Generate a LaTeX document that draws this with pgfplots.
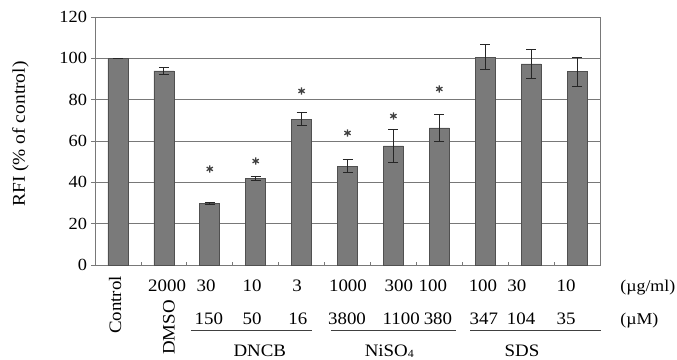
\documentclass[border=0pt]{standalone}
\usepackage{fontspec}
\setmainfont{Liberation Serif}[FakeStretch=1.08]
\usepackage{pgfplots}
\pgfplotsset{compat=1.18}
\usepackage{pgfplotstable}
\definecolor{barfill}{RGB}{122,122,122}
\definecolor{barline}{RGB}{80,80,80}
\definecolor{gridc}{RGB}{120,120,120}
\tikzset{lbl/.style={font=\fontsize{17.5}{19}\selectfont, inner sep=0pt, anchor=base}}
\pgfplotstableread{
x y err
0 100 0
1 93.9 1.8
2 29.8 0.6
3 41.8 1.0
4 70.6 3.0
5 47.9 3.0
6 57.6 8.0
7 66.3 6.4
8 100.6 6.2
9 97.3 7.0
10 93.5 7.0
}\datatab
\pgfplotstableread{
x y
2 46.5
3 50.3
4 84.2
5 63.9
6 72.1
7 85.2
}\startab
\begin{document}
\begin{tikzpicture}
\useasboundingbox (-95pt,-94pt) rectangle (582pt,265pt);
\begin{axis}[
  at={(0,0)}, anchor=south west,
  scale only axis, width=505pt, height=248pt,
  xmin=-0.5, xmax=10.5, ymin=0, ymax=120,
  ytick={0,20,...,120},
  xtick={0.5,1.5,...,9.5}, xticklabels={},
  xtick pos=bottom, ytick pos=left,
  xtick align=inside, ytick align=outside,
  major tick length=3.5pt,
  tick style={gridc, line width=0.8pt},
  ymajorgrids, grid style={gridc, line width=0.8pt},
  axis line style={gridc, line width=0.8pt},
  /pgf/number format/assume math mode=true,
  yticklabel style={font=\fontsize{17}{19}\selectfont, xshift=-1pt},
  ylabel={RFI (\% of control)},
  ylabel style={font=\fontsize{18}{20}\selectfont, at={(axis description cs:-0.1475,0.528)}, anchor=center},
  clip=false,
]
\addplot[ybar, bar width=20pt, fill=barfill, draw=barline, line width=0.6pt,
  error bars/.cd, y dir=both, y explicit,
  error mark options={rotate=90, mark size=5pt, line width=0.9pt, black!85},
  error bar style={line width=0.9pt, black!85}]
  table[x=x, y=y, y error=err]{\datatab};
\addplot[only marks, mark=asterisk, mark size=3.6pt, line width=1.3pt, black!75] table[x=x,y=y]{\startab};
% labels below
\node[lbl, rotate=90, anchor=east] at (axis cs:-0.06,-5.3) {Control};
\node[lbl, rotate=90, anchor=east] at (axis cs:1.11,-16.9) {DMSO};
\node[lbl] at (axis cs:1.07,-12.6) {2000};
\node[lbl] at (axis cs:1.92,-12.6) {30};
\node[lbl] at (axis cs:2.92,-12.6) {10};
\node[lbl] at (axis cs:3.90,-12.6) {3};
\node[lbl] at (axis cs:5.01,-12.6) {1000};
\node[lbl] at (axis cs:6.12,-12.6) {300};
\node[lbl] at (axis cs:6.86,-12.6) {100};
\node[lbl] at (axis cs:7.95,-12.6) {100};
\node[lbl] at (axis cs:8.69,-12.6) {30};
\node[lbl] at (axis cs:9.76,-12.6) {10};
\node[lbl] at (axis cs:1.98,-29.0) {150};
\node[lbl] at (axis cs:2.92,-29.0) {50};
\node[lbl] at (axis cs:3.92,-29.0) {16};
\node[lbl] at (axis cs:4.99,-29.0) {3800};
\node[lbl] at (axis cs:6.17,-29.0) {1100};
\node[lbl] at (axis cs:6.97,-29.0) {380};
\node[lbl] at (axis cs:7.97,-29.0) {347};
\node[lbl] at (axis cs:8.78,-29.0) {104};
\node[lbl] at (axis cs:9.76,-29.0) {35};
\node[lbl, anchor=base west, font=\fontsize{16.5}{18}\selectfont] at (axis cs:10.94,-12.6) {(µg/ml)};
\node[lbl, anchor=base west, font=\fontsize{16.5}{18}\selectfont] at (axis cs:10.94,-29.0) {(µM)};
\node[lbl] at (axis cs:3.09,-44.2) {DNCB};
\node[lbl] at (axis cs:5.91,-44.2) {NiSO\raisebox{-1.2pt}{\fontsize{11}{11}\selectfont 4}};
\node[lbl] at (axis cs:8.80,-44.2) {SDS};
\draw[black!75, line width=0.9pt] (axis cs:1.59,-31.5) -- (axis cs:4.23,-31.5);
\draw[black!75, line width=0.9pt] (axis cs:4.64,-31.5) -- (axis cs:7.36,-31.5);
\draw[black!75, line width=0.9pt] (axis cs:7.67,-31.5) -- (axis cs:10.52,-31.5);
\end{axis}
\end{tikzpicture}
\end{document}
